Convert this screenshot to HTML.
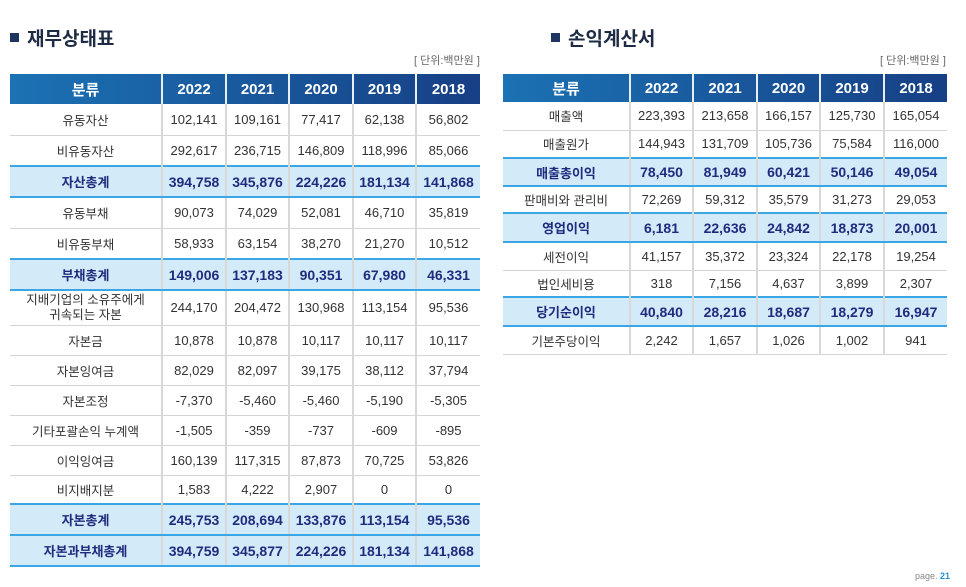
<!DOCTYPE html>
<html><head><meta charset="utf-8"><style>
body{margin:0;width:966px;height:587px;background:#fff;position:relative;overflow:hidden;font-family:"Liberation Sans","Noto Sans CJK KR",sans-serif;}
.title{position:absolute;font-size:19px;font-weight:bold;color:#1d2b45;}
.title span.sq{display:inline-block;width:9px;height:9px;background:#1d3560;margin-right:8px;vertical-align:3px;}
.unit{position:absolute;font-size:11px;color:#666;}
table{position:absolute;border-collapse:collapse;table-layout:fixed;}
td,th{text-align:center;padding:0;font-size:13px;color:#333;border-left:2px solid #d8d8d8;border-bottom:1px solid #d4d4d4;}
td:first-child,th:first-child{border-left:none;}
th{color:#fff;font-size:15px;font-weight:bold;border-left:2px solid #e6eef6;border-bottom:none;}
tr.hd{background:linear-gradient(90deg,#1b72b4,#173f85);}
tr.hl td{background:#d3ebf8;color:#1f2c7e;font-weight:bold;font-size:14px;border-top:2px solid #3aa6e5;border-bottom:2px solid #3aa6e5;}
td.lb{font-size:12.5px;}
tr.hl td.lb{font-size:13px;}
.pg{position:absolute;right:16px;bottom:6px;font-size:9px;color:#888;}
.pg b{color:#2a8fd6;}
</style></head><body>
<div class="title" style="left:10px;top:24px;"><span class="sq"></span>재무상태표</div>
<div class="unit" style="left:414px;top:52px;">[ 단위:백만원 ]</div>
<table style="left:10px;top:74px;width:470px;">
<colgroup><col style="width:152px"><col style="width:64px"><col style="width:63px"><col style="width:64px"><col style="width:63px"><col style="width:64px"></colgroup>
<tr class="hd" style="height:30px"><th>분류</th><th>2022</th><th>2021</th><th>2020</th><th>2019</th><th>2018</th></tr>
<tr style="height:31px"><td class="lb">유동자산</td><td>102,141</td><td>109,161</td><td>77,417</td><td>62,138</td><td>56,802</td></tr>
<tr style="height:31px"><td class="lb">비유동자산</td><td>292,617</td><td>236,715</td><td>146,809</td><td>118,996</td><td>85,066</td></tr>
<tr class="hl" style="height:31px"><td class="lb">자산총계</td><td>394,758</td><td>345,876</td><td>224,226</td><td>181,134</td><td>141,868</td></tr>
<tr style="height:31px"><td class="lb">유동부채</td><td>90,073</td><td>74,029</td><td>52,081</td><td>46,710</td><td>35,819</td></tr>
<tr style="height:31px"><td class="lb">비유동부채</td><td>58,933</td><td>63,154</td><td>38,270</td><td>21,270</td><td>10,512</td></tr>
<tr class="hl" style="height:31px"><td class="lb">부채총계</td><td>149,006</td><td>137,183</td><td>90,351</td><td>67,980</td><td>46,331</td></tr>
<tr style="height:35px"><td class="lb" style="line-height:15px">지배기업의 소유주에게<br>귀속되는 자본</td><td>244,170</td><td>204,472</td><td>130,968</td><td>113,154</td><td>95,536</td></tr>
<tr style="height:30px"><td class="lb">자본금</td><td>10,878</td><td>10,878</td><td>10,117</td><td>10,117</td><td>10,117</td></tr>
<tr style="height:30px"><td class="lb">자본잉여금</td><td>82,029</td><td>82,097</td><td>39,175</td><td>38,112</td><td>37,794</td></tr>
<tr style="height:30px"><td class="lb">자본조정</td><td>-7,370</td><td>-5,460</td><td>-5,460</td><td>-5,190</td><td>-5,305</td></tr>
<tr style="height:30px"><td class="lb">기타포괄손익 누계액</td><td>-1,505</td><td>-359</td><td>-737</td><td>-609</td><td>-895</td></tr>
<tr style="height:30px"><td class="lb">이익잉여금</td><td>160,139</td><td>117,315</td><td>87,873</td><td>70,725</td><td>53,826</td></tr>
<tr style="height:29px"><td class="lb">비지배지분</td><td>1,583</td><td>4,222</td><td>2,907</td><td>0</td><td>0</td></tr>
<tr class="hl" style="height:31px"><td class="lb">자본총계</td><td>245,753</td><td>208,694</td><td>133,876</td><td>113,154</td><td>95,536</td></tr>
<tr class="hl" style="height:31px"><td class="lb">자본과부채총계</td><td>394,759</td><td>345,877</td><td>224,226</td><td>181,134</td><td>141,868</td></tr>
</table>

<div class="title" style="left:551px;top:24px;"><span class="sq"></span>손익계산서</div>
<div class="unit" style="left:880px;top:52px;">[ 단위:백만원 ]</div>
<table style="left:503px;top:74px;width:444px;">
<colgroup><col style="width:127px"><col style="width:63px"><col style="width:64px"><col style="width:63px"><col style="width:64px"><col style="width:63px"></colgroup>
<tr class="hd" style="height:28px"><th>분류</th><th>2022</th><th>2021</th><th>2020</th><th>2019</th><th>2018</th></tr>
<tr style="height:28px"><td class="lb">매출액</td><td>223,393</td><td>213,658</td><td>166,157</td><td>125,730</td><td>165,054</td></tr>
<tr style="height:28px"><td class="lb">매출원가</td><td>144,943</td><td>131,709</td><td>105,736</td><td>75,584</td><td>116,000</td></tr>
<tr class="hl" style="height:28px"><td class="lb">매출총이익</td><td>78,450</td><td>81,949</td><td>60,421</td><td>50,146</td><td>49,054</td></tr>
<tr style="height:27px"><td class="lb">판매비와 관리비</td><td>72,269</td><td>59,312</td><td>35,579</td><td>31,273</td><td>29,053</td></tr>
<tr class="hl" style="height:29px"><td class="lb">영업이익</td><td>6,181</td><td>22,636</td><td>24,842</td><td>18,873</td><td>20,001</td></tr>
<tr style="height:28px"><td class="lb">세전이익</td><td>41,157</td><td>35,372</td><td>23,324</td><td>22,178</td><td>19,254</td></tr>
<tr style="height:27px"><td class="lb">법인세비용</td><td>318</td><td>7,156</td><td>4,637</td><td>3,899</td><td>2,307</td></tr>
<tr class="hl" style="height:29px"><td class="lb">당기순이익</td><td>40,840</td><td>28,216</td><td>18,687</td><td>18,279</td><td>16,947</td></tr>
<tr style="height:28px"><td class="lb">기본주당이익</td><td>2,242</td><td>1,657</td><td>1,026</td><td>1,002</td><td>941</td></tr>
</table>
<div class="pg">page. <b>21</b></div>
</body></html>
